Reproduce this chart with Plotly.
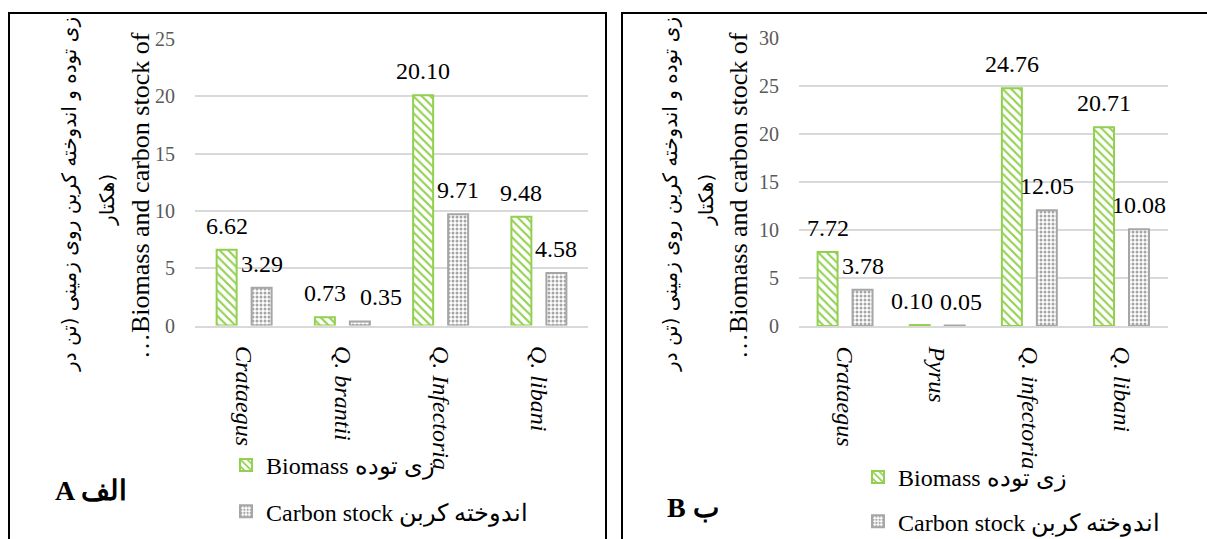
import plotly.graph_objects as go

W, H = 1207, 539

# ---- data -------------------------------------------------------------
species_a = ["Crataegus", "Q. brantii", "Q. Infectoria", "Q. libani"]
biomass_a = [6.62, 0.73, 20.10, 9.48]
carbon_a = [3.29, 0.35, 9.71, 4.58]

species_b = ["Crataegus", "Pyrus", "Q. infectoria", "Q. libani"]
biomass_b = [7.72, 0.10, 24.76, 20.71]
carbon_b = [3.78, 0.05, 12.05, 10.08]

yticks_a = [0, 5, 10, 15, 20, 25]
yticks_b = [0, 5, 10, 15, 20, 25, 30]

biomass_name = "Biomass زی توده"
carbon_name = "Carbon stock اندوخته کربن"
title_fa_1 = "زی توده و اندوخته کربن روی زمینی (تن در"
title_fa_2 = "هکتار)"
title_en = "…Biomass and carbon stock of"
panel_a = "<b>A الف</b>"
panel_b = "<b>B ب</b>"

# ---- styles -----------------------------------------------------------
SERIF = "Liberation Serif"
PERSIAN = "DejaVu Sans"
GREEN = "#92d050"
GREY = "#a6a6a6"
GRID = "#d9d9d9"

# horizontal nudges (px) for value labels of very short bars
label_nudge_a = {"carbon": {"Q. brantii": 21}}
label_nudge_b = {"biomass": {"Pyrus": -8}, "carbon": {"Pyrus": 6}}


def px(x):
    return x / W


def py(y):
    return 1 - y / H


fig = go.Figure()


def add_panel(cats, bio, carb, xa, ya, legend, cat_px, nudge):
    width = 20 / cat_px
    common = dict(xaxis=xa, yaxis=ya, legend=legend, width=width,
                  hoverinfo="skip")
    fig.add_trace(go.Bar(
        x=cats, y=bio, name=biomass_name, offset=-27.5 / cat_px,
        legendgroup=legend + "bio",
        marker=dict(color="white", line=dict(color=GREEN, width=2),
                    pattern=dict(shape="\\", fgcolor=GREEN, bgcolor="white",
                                 size=6, solidity=0.35, fillmode="replace")),
        **common))
    fig.add_trace(go.Bar(
        x=cats, y=carb, name=carbon_name, offset=7.5 / cat_px,
        legendgroup=legend + "carb",
        marker=dict(color="white", line=dict(color=GREY, width=2),
                    pattern=dict(shape=".", fgcolor=GREY, bgcolor="white",
                                 size=4, solidity=0.45, fillmode="replace")),
        **common))
    xref = "x" if xa == "x" else "x2"
    yref = "y" if ya == "y" else "y2"
    for key, vals, base in (("biomass", bio, -17.5), ("carbon", carb, 17.5)):
        for c, v in zip(cats, vals):
            fig.add_annotation(
                x=c, y=v, xref=xref, yref=yref, text=f"{v:.2f}",
                showarrow=False, xshift=base + nudge.get(key, {}).get(c, 0),
                yshift=24, yanchor="middle",
                font=dict(family=SERIF, size=24, color="black"))


add_panel(species_a, biomass_a, carbon_a, "x", "y", "legend", 98.25,
          label_nudge_a)
add_panel(species_b, biomass_b, carbon_b, "x2", "y2", "legend2", 92.25,
          label_nudge_b)

xaxis_common = dict(
    type="category", showgrid=False, showline=True, linecolor=GRID,
    linewidth=1.5, ticks="", tickangle=90, ticklabelstandoff=14,
    tickfont=dict(family=SERIF, size=24, color="black"), fixedrange=True)
yaxis_common = dict(
    showgrid=True, gridcolor=GRID, gridwidth=1.5, zeroline=False,
    showline=False, ticks="", ticklabelstandoff=19,
    tickfont=dict(family=SERIF, size=20, color="#595959"), fixedrange=True)

legend_common = dict(xanchor="left", yanchor="top", orientation="v",
                     traceorder="grouped", itemwidth=30,
                     bgcolor="rgba(0,0,0,0)",
                     font=dict(family=SERIF, size=24, color="black"))

fig.update_layout(
    width=W, height=H,
    margin=dict(l=0, r=0, t=0, b=0, autoexpand=False),
    paper_bgcolor="white", plot_bgcolor="white", barmode="overlay",
    font=dict(family=SERIF, color="black"),
    xaxis=dict(domain=[px(195), px(588)], anchor="y",
               tickvals=species_a,
               ticktext=[f"<i>{s}</i>" for s in species_a],
               **xaxis_common),
    yaxis=dict(domain=[py(325.5), py(39)], anchor="x", range=[0, 25],
               tickvals=yticks_a, **yaxis_common),
    xaxis2=dict(domain=[px(799), px(1168)], anchor="y2",
                tickvals=species_b,
                ticktext=[f"<i>{s}</i>" for s in species_b],
                **xaxis_common),
    yaxis2=dict(domain=[py(326), py(38)], anchor="x2", range=[0, 30],
                tickvals=yticks_b, **yaxis_common),
    legend=dict(x=px(226), y=py(443), tracegroupgap=12, **legend_common),
    legend2=dict(x=px(858), y=py(455), tracegroupgap=10, **legend_common),
    showlegend=True,
)

# panel frames
fig.add_shape(type="rect", xref="paper", yref="paper",
              x0=px(9), x1=px(606), y0=py(560), y1=py(13),
              line=dict(color="black", width=2), layer="below")
fig.add_shape(type="rect", xref="paper", yref="paper",
              x0=px(622), x1=px(1230), y0=py(560), y1=py(13),
              line=dict(color="black", width=2), layer="below")

# vertical axis titles (Persian two lines + English)
for fa1_x, fa2_x, en_x in [(69, 107, 140), (670, 706, 738)]:
    fig.add_annotation(x=px(fa1_x), y=py(195), xref="paper", yref="paper",
                       text=title_fa_1, textangle=-90, showarrow=False,
                       xanchor="center", yanchor="middle",
                       font=dict(family=PERSIAN, size=20, color="black"))
    fig.add_annotation(x=px(fa2_x), y=py(200), xref="paper", yref="paper",
                       text=title_fa_2, textangle=-90, showarrow=False,
                       xanchor="center", yanchor="middle",
                       font=dict(family=PERSIAN, size=20, color="black"))
    fig.add_annotation(x=px(en_x), y=py(196), xref="paper", yref="paper",
                       text=title_en, textangle=-90, showarrow=False,
                       xanchor="center", yanchor="middle",
                       font=dict(family=SERIF, size=26, color="black"))

# panel letters
fig.add_annotation(x=px(91), y=py(490), xref="paper", yref="paper",
                   text=panel_a, showarrow=False, xanchor="center",
                   yanchor="middle",
                   font=dict(family=SERIF, size=28, color="black"))
fig.add_annotation(x=px(693), y=py(507), xref="paper", yref="paper",
                   text=panel_b, showarrow=False, xanchor="center",
                   yanchor="middle",
                   font=dict(family=SERIF, size=28, color="black"))

fig.write_html("out.html")
